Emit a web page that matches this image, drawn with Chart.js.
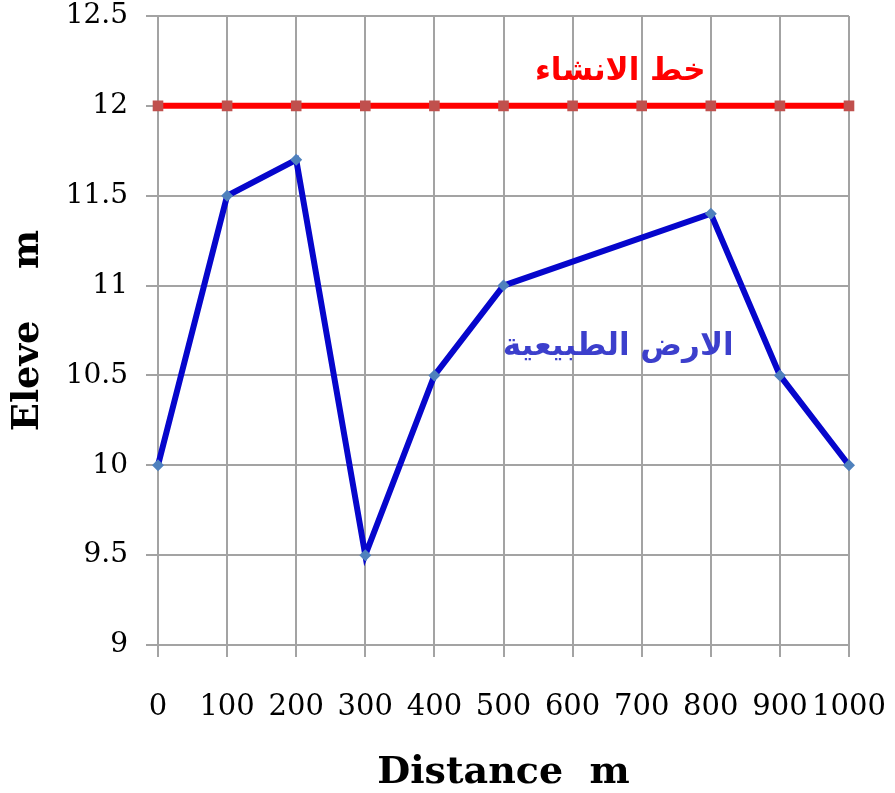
<!DOCTYPE html>
<html>
<head>
<meta charset="utf-8">
<script src="https://cdn.jsdelivr.net/npm/chart.js@4.4.1/dist/chart.umd.min.js"></script>
<style>
  html, body { margin: 0; padding: 0; background: #fff; }
  #wrap { width: 895px; height: 793px; position: relative; }
</style>
</head>
<body>
<div id="wrap"><canvas id="c"></canvas></div>
<script>
// Distance along the section (m)
const distances = ['0', '100', '200', '300', '400', '500', '600', '700', '800', '900', '1000'];
// Natural ground elevation (m); no survey points at 600 and 700
const groundLevel = [10, 11.5, 11.7, 9.5, 10.5, 11, null, null, 11.4, 10.5, 10];
// Construction (design) line elevation (m)
const constructionLevel = [12, 12, 12, 12, 12, 12, 12, 12, 12, 12, 12];
// Elevation axis ticks
const elevationTicks = [9, 9.5, 10, 10.5, 11, 11.5, 12, 12.5];

const serif = "'DejaVu Serif', 'Liberation Serif', serif";
const arabic = "'DejaVu Sans', 'Noto Sans', sans-serif";

// Series captions written inside the plot
const captions = {
  id: 'captions',
  afterDatasetsDraw(chart) {
    const { ctx, scales } = chart;
    const x = scales.x, y = scales.y;
    ctx.save();
    ctx.textAlign = 'center';
    ctx.textBaseline = 'middle';
    ctx.font = "bold 31px " + arabic;
    ctx.fillStyle = '#FF0000';
    ctx.fillText('خط الانشاء', x.getPixelForValue(6.69), y.getPixelForValue(12.19));
    ctx.fillStyle = '#3C3FCC';
    ctx.fillText('الارض الطبيعية', x.getPixelForValue(6.66), y.getPixelForValue(10.66));
    ctx.restore();
  }
};

new Chart(document.getElementById('c'), {
  type: 'line',
  data: {
    labels: distances,
    datasets: [
      {
        label: 'الارض الطبيعية',
        data: groundLevel,
        spanGaps: true,
        borderColor: '#0606CC',
        borderWidth: 6,
        pointStyle: 'rectRot',
        pointRadius: 6,
        pointBackgroundColor: '#4F81BD',
        pointBorderColor: '#4F81BD',
        pointBorderWidth: 0,
        tension: 0
      },
      {
        label: 'خط الانشاء',
        data: constructionLevel,
        borderColor: '#FF0000',
        borderWidth: 6,
        pointStyle: 'rect',
        pointRadius: 7.5,
        pointBackgroundColor: '#C0504D',
        pointBorderColor: '#C0504D',
        pointBorderWidth: 0,
        tension: 0
      }
    ]
  },
  options: {
    responsive: true,
    maintainAspectRatio: false,
    animation: false,
    layout: { padding: { left: 6, right: 46, top: 16, bottom: 0 } },
    plugins: {
      legend: { display: false },
      tooltip: { enabled: false }
    },
    scales: {
      x: {
        type: 'category',
        offset: false,
        grid: { color: '#A3A3A3', lineWidth: 2, tickLength: 12, drawTicks: true },
        border: { color: '#A3A3A3', width: 2 },
        ticks: {
          autoSkip: false,
          maxRotation: 0,
          minRotation: 0,
          padding: 33,
          color: '#000',
          font: { family: serif, size: 29 }
        },
        title: {
          display: true,
          text: 'Distance  m',
          color: '#000',
          font: { family: serif, size: 38, weight: 'bold', lineHeight: 1.05 },
          padding: { top: 0, bottom: 0 }
        },
        afterFit(scale) {
          scale.height = 148;
          scale.paddingLeft = 0;
          scale.paddingRight = 0;
        }
      },
      y: {
        min: 9,
        max: 12.5,
        grid: { color: '#A3A3A3', lineWidth: 2, tickLength: 12, drawTicks: true },
        border: { color: '#A3A3A3', width: 2 },
        afterBuildTicks(scale) { scale.ticks = elevationTicks.map(v => ({ value: v })); },
        ticks: {
          padding: 18,
          color: '#000',
          font: { family: serif, size: 28 },
          callback: v => String(v)
        },
        title: {
          display: true,
          text: 'Eleve    m',
          color: '#000',
          font: { family: serif, size: 37, weight: 'bold' },
          padding: { top: 0, bottom: 0 }
        },
        afterFit(scale) {
          scale.width = 152;
          scale.paddingTop = 0;
          scale.paddingBottom = 0;
        }
      }
    }
  },
  plugins: [captions]
});
</script>
</body>
</html>
